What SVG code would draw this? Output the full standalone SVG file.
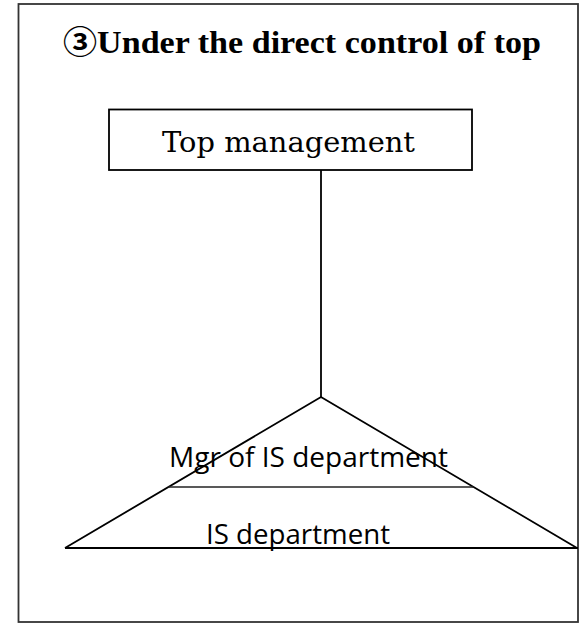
<svg xmlns="http://www.w3.org/2000/svg" width="583" height="624" viewBox="0 0 583 624">
<style>
.ln{stroke:#000;fill:none;stroke-width:1.8}
.serif{font-family:"DejaVu Serif","Liberation Serif","Noto Sans CJK JP",serif;fill:#000}
.title{font-family:"Liberation Serif","DejaVu Serif","Noto Sans CJK JP",serif;fill:#000;font-weight:bold}
.sans{font-family:"Open Sans","Liberation Sans",sans-serif;fill:#000}
</style>
<rect x="0" y="0" width="583" height="624" fill="#fff"/>
<g id="frame">
<rect x="18.5" y="4" width="559.5" height="618" fill="none" stroke="#333" stroke-width="1.8"/>
</g>
<g id="title">
<text class="title" x="63" y="53" font-size="31" textLength="478" lengthAdjust="spacingAndGlyphs">③Under the direct control of top</text>
</g>
<g id="top-management">
<rect x="109" y="109.5" width="363" height="60.5" class="ln"/>
<text class="serif" x="162" y="152" font-size="27" textLength="253" lengthAdjust="spacingAndGlyphs">Top management</text>
</g>
<g id="connectors">
<line x1="321" y1="170" x2="321" y2="397" class="ln"/>
</g>
<g id="is-department">
<polyline points="65,548 321,397 577,548" class="ln"/>
<line x1="168.5" y1="487" x2="473.5" y2="487" stroke="#222" stroke-width="1.5"/>
<line x1="65" y1="548" x2="578" y2="548" stroke="#000" stroke-width="2.2"/>
<text class="sans" x="169" y="467" font-size="27" textLength="279" lengthAdjust="spacingAndGlyphs">Mgr of IS department</text>
<text class="sans" x="206" y="544" font-size="27" textLength="184" lengthAdjust="spacingAndGlyphs">IS department</text>
</g>
</svg>
